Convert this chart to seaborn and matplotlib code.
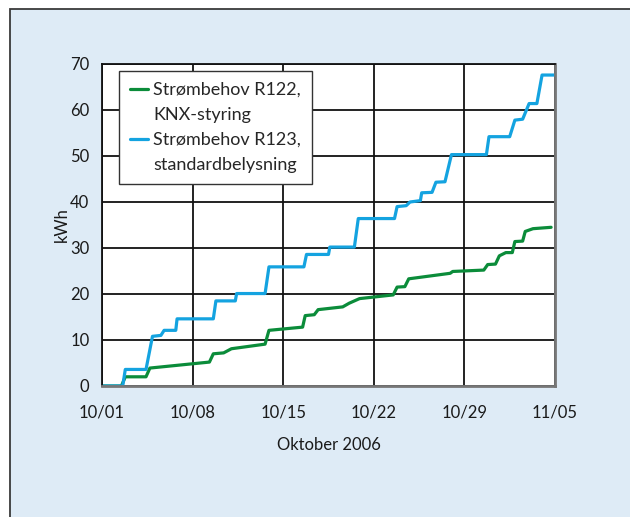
import pandas as pd
import seaborn as sns
from matplotlib import pyplot as plt
from matplotlib.lines import Line2D
from matplotlib.patches import Rectangle

sns.set_theme(style="white")
plt.rcParams['font.family'] = ['Lato', 'DejaVu Sans']

# Energy use, October 2006 (days after 10/01, cumulative kWh)
start = pd.Timestamp("2006-10-01")
r122_days = [0, 1.5, 1.8, 3.4, 3.7, 8.3, 8.6, 9.4, 10.0, 12.6, 12.9, 15.5, 15.7, 16.4,
             16.7, 18.6, 19.1, 19.9, 22.5, 22.8, 23.4, 23.7, 26.9, 27.1, 29.5, 29.8,
             30.4, 30.7, 31.2, 31.7, 31.9, 32.5, 32.7, 33.3, 34.7]
r122_kwh = [0, 0, 2.0, 2.0, 3.9, 5.2, 7.0, 7.2, 8.1, 9.1, 12.1, 12.8, 15.3, 15.5,
            16.6, 17.2, 18.0, 19.0, 19.8, 21.5, 21.6, 23.3, 24.5, 24.9, 25.2, 26.4,
            26.5, 28.3, 29.0, 29.0, 31.4, 31.5, 33.6, 34.2, 34.5]
r123_days = [0, 1.6, 1.8, 3.4, 3.9, 4.55, 4.8, 5.7, 5.8, 8.6, 8.8, 10.3, 10.4, 12.6,
             12.9, 15.6, 15.8, 17.5, 17.6, 19.5, 19.8, 22.6, 22.8, 23.5, 23.8, 24.6,
             24.7, 25.5, 25.8, 26.5, 27.0, 29.7, 29.9, 31.5, 31.9, 32.5, 33.0, 33.6,
             34.0, 35.0]
r123_kwh = [0, 0, 3.6, 3.6, 10.8, 11.0, 12.1, 12.1, 14.6, 14.6, 18.5, 18.5, 20.1, 20.1,
            25.9, 25.9, 28.6, 28.6, 30.2, 30.2, 36.4, 36.4, 39.0, 39.2, 40.0, 40.3,
            42.0, 42.1, 44.3, 44.4, 50.3, 50.3, 54.2, 54.2, 57.8, 58.0, 61.4, 61.4,
            67.6, 67.6]
series_labels = ["Strømbehov R122,", "Strømbehov R123,"]
series_sub = ["KNX-styring", "standardbelysning"]
colors = ["#0b8c3a", "#14a3e0"]
tick_labels = ["10/01", "10/08", "10/15", "10/22", "10/29", "11/05"]

df = pd.concat([
    pd.DataFrame({"dag": r122_days, "kWh": r122_kwh, "serie": series_labels[0]}),
    pd.DataFrame({"dag": r123_days, "kWh": r123_kwh, "serie": series_labels[1]}),
])
df["dato"] = start + pd.to_timedelta(df["dag"], unit="D")

fig = plt.figure(figsize=(6.3, 5.17), dpi=100, facecolor="white")
fig.patches.append(Rectangle((9.5 / 630, -0.1), 1.2, 1.1 - 8.5 / 517, transform=fig.transFigure,
                             facecolor="#deebf6", edgecolor="#3a3a3a", linewidth=1.3, zorder=-10))
ax = fig.add_axes([102 / 630, 131 / 517, 453 / 630, 322 / 517])

sns.lineplot(data=df, x="dato", y="kWh", hue="serie", palette=colors, estimator=None,
             sort=False, linewidth=2.3, legend=False, ax=ax)

ticks = pd.date_range(start, periods=6, freq="7D")
ax.set_xlim(ticks[0], ticks[-1])
ax.set_ylim(0, 70)
ax.set_xticks(ticks)
ax.set_xticklabels(tick_labels)
ax.set_yticks(range(0, 71, 10))
ax.grid(True, color="#111111", linewidth=1.3)
ax.tick_params(axis="both", length=0, labelsize=12, colors="#1a1a1a")
ax.tick_params(axis="x", pad=13)
ax.tick_params(axis="y", pad=9)
ax.set_xlabel("Oktober 2006", fontsize=12, labelpad=12, color="#1a1a1a")
ax.set_ylabel("kWh", fontsize=12, labelpad=0, color="#1a1a1a")
for side in ["top", "left"]:
    ax.spines[side].set_color("#111111")
    ax.spines[side].set_linewidth(1.3)
for side in ["bottom", "right"]:
    ax.spines[side].set_color("#777777")
    ax.spines[side].set_linewidth(2)
ax.set_facecolor("white")

blank = Line2D([], [], color="none")
handles = [Line2D([], [], color=colors[0], linewidth=2.3), blank,
           Line2D([], [], color=colors[1], linewidth=2.3), blank]
labels = [series_labels[0], series_sub[0], series_labels[1], series_sub[1]]
leg = ax.legend(handles, labels, loc="upper left", bbox_to_anchor=(0.037, 0.978),
                borderaxespad=0, fontsize=13, frameon=True, fancybox=False,
                labelspacing=0.5, handlelength=1.0, handletextpad=0.3,
                borderpad=0.6, edgecolor="#333333", framealpha=1)
leg.get_frame().set_linewidth(1.0)

fig.savefig("out.png", dpi=100, facecolor=fig.get_facecolor())
